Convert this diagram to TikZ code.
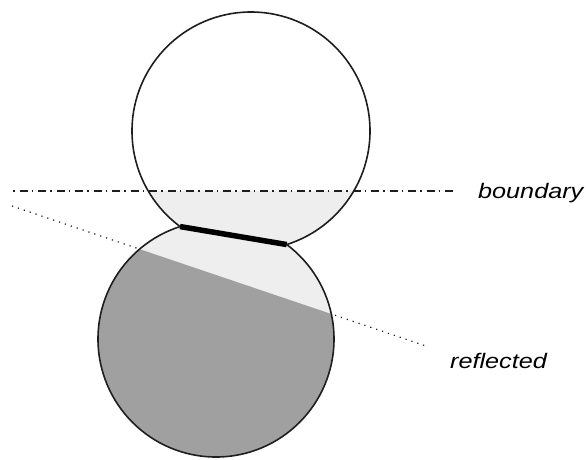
\documentclass[tikz,border=0pt]{standalone}
\usepackage{fontspec}
\setmainfont{Liberation Sans}
\usepackage{graphicx}
\usetikzlibrary{intersections}
\definecolor{lightfill}{RGB}{238,238,238}
\definecolor{darkfill}{RGB}{160,160,160}
\definecolor{ink}{RGB}{30,30,30}
\tikzset{
  outline/.style={draw=ink, line width=1.6pt},
  boundaryline/.style={ink, line width=2.2pt, dash pattern=on 1.5pt off 5pt on 8pt off 4pt},
  reflectline/.style={ink, line width=1.2pt, dash pattern=on 1.2pt off 5pt},
  contact/.style={black, line width=5.5pt},
  textlabel/.style={font=\fontsize{21}{24}\selectfont\itshape, inner sep=0pt, anchor=base west},
}
\begin{document}
\begin{tikzpicture}[x=1pt,y=-1pt]
\useasboundingbox (0,0) rectangle (586,460);
\coordinate (U) at (251,131);
\coordinate (L) at (216,339);
\coordinate (B1) at (13,191);
\coordinate (B2) at (454,191);
\coordinate (R1) at (12,206);
\coordinate (R2) at (426,346);
% reflected line (inner part covered by the fill)
\draw[reflectline] (R1) -- (R2);
% light fills
\begin{scope}
  \clip (0,191) rectangle (586,460);
  \fill[lightfill] (U) circle (119pt);
\end{scope}
\fill[lightfill] (L) circle (118pt);
% dark fill below the reflected line
\begin{scope}
  \clip (L) circle (118pt);
  \fill[darkfill] (R1) -- (R2) -- (426,480) -- (12,480) -- cycle;
\end{scope}
% outlines
\path[name path=cu] (U) circle (119pt);
\path[name path=cl] (L) circle (118pt);
\path[name intersections={of=cu and cl, by={X1,X2}}];
\begin{scope}[even odd rule]
  \clip (-10,-10) rectangle (600,470) (L) circle (118pt);
  \draw[outline] (U) circle (119pt);
\end{scope}
\begin{scope}[even odd rule]
  \clip (-10,-10) rectangle (600,470) (U) circle (119pt);
  \draw[outline] (L) circle (118pt);
\end{scope}
% boundary line
\draw[boundaryline] (B1) -- (B2);
% contact bar
\draw[contact] (X1) -- (X2);
% labels
\node[textlabel] (lb) at (478,198) {\scalebox{1.2}[1]{boundary}};
\node[textlabel] (lr) at (450,368) {\scalebox{1.2}[1]{reflected}};
\end{tikzpicture}
\end{document}
